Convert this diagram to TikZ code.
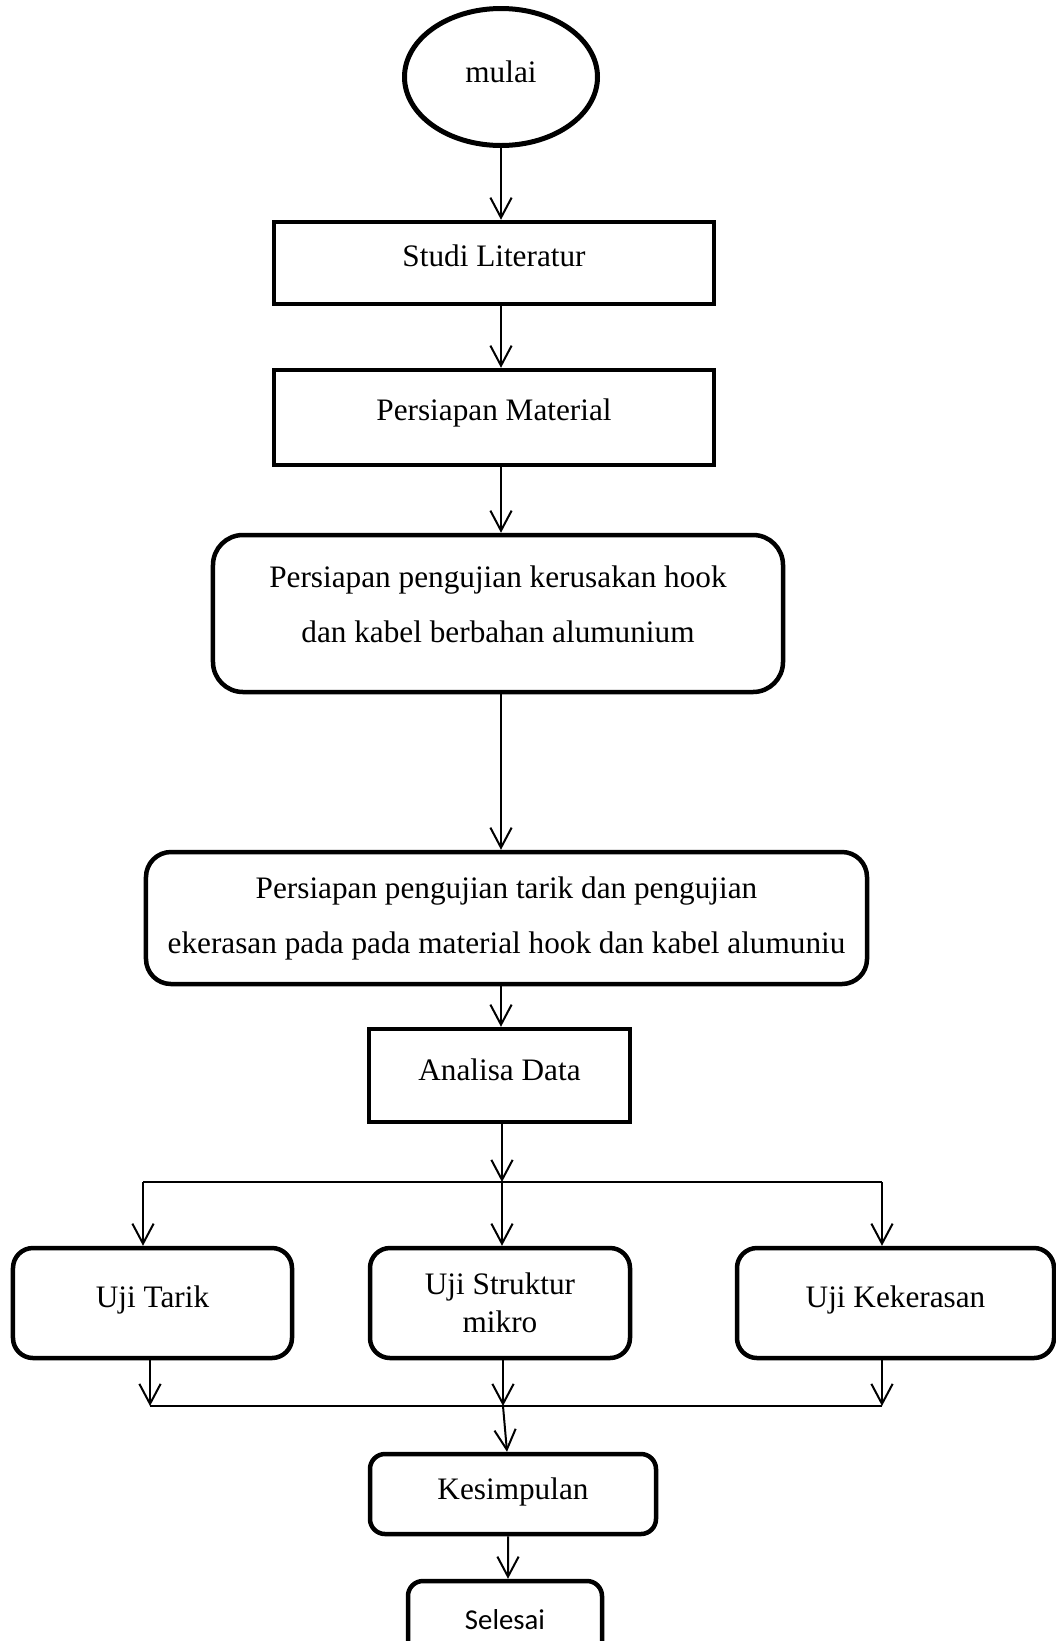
\documentclass[tikz,border=0pt]{standalone}
\usepackage{fontspec}
\setmainfont{Liberation Serif}
\newfontfamily\selfont{Carlito}
\usetikzlibrary{arrows.meta,shapes.geometric}

\begin{document}
\begin{tikzpicture}[x=0.4pt,y=-0.4pt,
  box/.style={draw,line width=1.8pt,minimum height=32.8pt,inner sep=0pt,align=center,font=\fontsize{12.5}{22}\selectfont},
  rbox/.style={box,rounded corners=10pt},
  arr/.style={line width=0.8pt,-{Straight Barb[length=8pt,width=8.5pt]}}]
\useasboundingbox (0,0) rectangle (1055,1641);
\node[ellipse,draw,line width=2pt,minimum width=77.2pt,minimum height=54.8pt,inner sep=0pt,text depth=4.2pt,font=\fontsize{12.5}{15}\selectfont] (mulai) at (501,77) {mulai};
\node[box,minimum width=176pt,text depth=5.8pt] (studi) at (494,263) {Studi Literatur};
\node[box,minimum width=176pt,minimum height=38pt,text depth=6.1pt] (material) at (494,417.5) {Persiapan Material};
\node[rbox,minimum width=228pt,minimum height=62.8pt,rounded corners=12pt,text depth=7.6pt] (siapa) at (498,613.5) {Persiapan pengujian kerusakan hook\\dan kabel berbahan alumunium};
\node[rbox,minimum width=288.4pt,minimum height=52.8pt] (siapb) at (506.5,918) {Persiapan pengujian tarik dan pengujian\\ekerasan pada pada material hook dan kabel alumuniu};
\node[box,minimum width=104.4pt,minimum height=37.2pt,text depth=5pt] (analisa) at (499.5,1075.5) {Analisa Data};
\node[rbox,minimum width=111.6pt,minimum height=44pt,rounded corners=8pt,text depth=5.3pt] (tarik) at (152.5,1303) {Uji Tarik};
\node[rbox,minimum width=104pt,minimum height=44pt,rounded corners=8pt,font=\fontsize{12.5}{15}\selectfont] (struktur) at (500,1303) {Uji Struktur\\mikro};
\node[rbox,minimum width=126.8pt,minimum height=44pt,rounded corners=8pt,text depth=5.3pt] (keras) at (895.5,1303) {Uji Kekerasan};
\node[rbox,minimum width=114.4pt,minimum height=32pt,rounded corners=6pt,text depth=4.3pt] (simpul) at (513,1494) {Kesimpulan};
\node[rbox,minimum width=77.6pt,minimum height=31.2pt,rounded corners=6pt,font=\selfont\fontsize{11.5}{14}\selectfont] (selesai) at (505,1620) {Selesai};
\coordinate (bagi) at (502,1182);
\coordinate (bkiri) at (143,1182);
\coordinate (bkanan) at (882,1182);
\coordinate (gabung) at (503,1406);
\coordinate (gkiri) at (150,1406);
\coordinate (gkanan) at (882,1406);
\draw[arr] (mulai.south) -- (mulai.south |- studi.north);
\draw[arr] (studi.south -| mulai) -- (material.north -| mulai);
\draw[arr] (material.south -| mulai) -- (siapa.north -| mulai);
\draw[arr] (siapa.south -| mulai) -- (siapb.north -| mulai);
\draw[arr] (siapb.south -| mulai) -- (analisa.north -| mulai);
\draw[arr] (analisa.south -| bagi) -- (bagi);
\draw[line width=0.8pt] (bkiri) -- (bkanan);
\draw[arr] (bkiri) -- (bkiri |- tarik.north);
\draw[arr] (bagi) -- (bagi |- struktur.north);
\draw[arr] (bkanan) -- (bkanan |- keras.north);
\draw[arr] (tarik.south -| gkiri) -- (gkiri);
\draw[arr] (struktur.south -| gabung) -- (gabung);
\draw[arr] (keras.south -| gkanan) -- (gkanan);
\draw[line width=0.8pt] (gkiri) -- (gkanan);
\draw[arr] (gabung) -- ([xshift=-2.4pt]simpul.north);
\draw[arr] ([xshift=-2pt]simpul.south) -- ([xshift=1.2pt]selesai.north);
\end{tikzpicture}
\end{document}
